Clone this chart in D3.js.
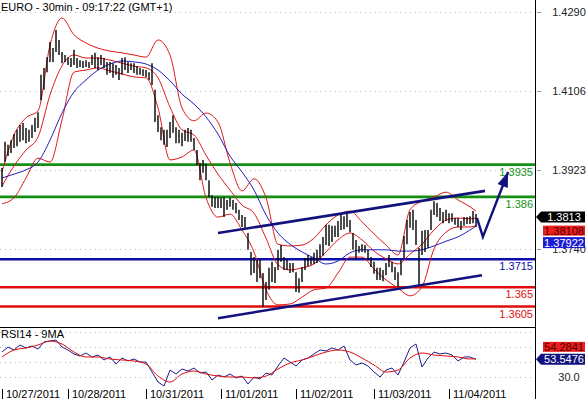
<!DOCTYPE html>
<html>
<head>
<meta charset="utf-8">
<script src="https://cdn.jsdelivr.net/npm/d3@7"></script>
<style>
body { margin: 0; background: #fff; }
svg { display: block; font-family: "Liberation Sans", Arial, sans-serif; font-size: 11px; }
</style>
</head>
<body>
<svg id="chart" width="588" height="399"></svg>
<script>
var title = "EURO - 30min - 09:17:22 (GMT+1)";
var rsiTitle = "RSI14 - 9MA";

// 30 min bars, high / low
var barHigh = [1.3927,1.3988,1.3981,1.3992,1.4006,1.4016,1.4027,1.4032,1.4020,1.4016,
  1.4027,1.4044,1.4057,1.4144,1.4160,1.4185,1.4220,1.4206,1.4248,1.4225,
  1.4197,1.4190,1.4185,1.4183,1.4202,1.4183,1.4178,1.4176,1.4178,1.4174,
  1.4190,1.4195,1.4185,1.4190,1.4183,1.4174,1.4174,1.4171,1.4167,1.4160,
  1.4183,1.4185,1.4174,1.4171,1.4171,1.4164,1.4160,1.4157,1.4155,1.4150,
  1.4171,1.4109,1.4050,1.4022,1.4016,1.4016,1.4034,1.4050,1.4022,1.4016,
  1.4009,1.4016,1.4020,1.4016,1.3997,1.3969,1.3939,1.3946,1.3937,1.3899,
  1.3864,1.3860,1.3860,1.3858,1.3860,1.3853,1.3858,1.3853,1.3846,1.3830,
  1.3818,1.3813,1.3776,1.3732,1.3720,1.3713,1.3713,1.3683,1.3662,1.3695,
  1.3709,1.3697,1.3737,1.3748,1.3720,1.3713,1.3706,1.3706,1.3685,1.3671,
  1.3697,1.3718,1.3725,1.3720,1.3730,1.3737,1.3750,1.3767,1.3795,1.3795,
  1.3793,1.3793,1.3804,1.3822,1.3815,1.3822,1.3806,1.3776,1.3760,1.3746,
  1.3750,1.3748,1.3737,1.3720,1.3709,1.3695,1.3695,1.3690,1.3706,1.3725,
  1.3709,1.3697,1.3685,1.3713,1.3769,1.3806,1.3825,1.3830,1.3806,1.3741,
  1.3781,1.3783,1.3783,1.3830,1.3850,1.3846,1.3834,1.3825,1.3830,1.3822,
  1.3822,1.3811,1.3811,1.3804,1.3813,1.3813,1.3815,1.3827,1.3820];
var barLow = [1.3883,1.3941,1.3955,1.3962,1.3974,1.3978,1.3988,1.3992,1.3985,1.3988,
  1.3997,1.4011,1.4020,1.4085,1.4109,1.4150,1.4174,1.4174,1.4197,1.4190,
  1.4171,1.4174,1.4167,1.4162,1.4167,1.4160,1.4162,1.4160,1.4162,1.4160,
  1.4167,1.4160,1.4155,1.4167,1.4160,1.4144,1.4148,1.4137,1.4144,1.4132,
  1.4144,1.4155,1.4148,1.4155,1.4148,1.4144,1.4144,1.4141,1.4139,1.4132,
  1.4120,1.4034,1.4011,1.3992,1.3981,1.3976,1.3997,1.4009,1.3985,1.3985,
  1.3978,1.3990,1.3988,1.3988,1.3969,1.3934,1.3899,1.3916,1.3899,1.3860,
  1.3837,1.3834,1.3834,1.3834,1.3813,1.3830,1.3837,1.3830,1.3822,1.3806,
  1.3790,1.3788,1.3737,1.3678,1.3683,1.3662,1.3671,1.3604,1.3620,1.3644,
  1.3662,1.3660,1.3690,1.3709,1.3690,1.3690,1.3683,1.3685,1.3639,1.3637,
  1.3662,1.3690,1.3699,1.3702,1.3704,1.3706,1.3713,1.3723,1.3748,1.3746,
  1.3755,1.3767,1.3767,1.3783,1.3785,1.3790,1.3778,1.3737,1.3713,1.3730,
  1.3732,1.3730,1.3713,1.3697,1.3681,1.3667,1.3667,1.3664,1.3678,1.3697,
  1.3685,1.3667,1.3651,1.3678,1.3718,1.3750,1.3788,1.3783,1.3748,1.3655,
  1.3725,1.3732,1.3741,1.3783,1.3818,1.3813,1.3804,1.3799,1.3804,1.3799,
  1.3802,1.3795,1.3790,1.3783,1.3793,1.3797,1.3797,1.3799,1.3790];

// bollinger bands and moving average, every 4th bar
var bandUpper = [1.3918,1.4004,1.4044,1.4060,1.4213,1.4276,1.4237,1.4218,1.4206,1.4199,
  1.4195,1.4190,1.4185,1.4225,1.4190,1.4067,1.4037,1.4055,1.4034,1.3939,
  1.3874,1.3902,1.3858,1.3750,1.3746,1.3748,1.3764,1.3795,1.3818,1.3827,
  1.3802,1.3774,1.3748,1.3725,1.3830,1.3850,1.3860,1.3871,1.3853,1.3837,1.3827];
var bandMid = [1.3885,1.3932,1.3969,1.3999,1.4097,1.4165,1.4190,1.4183,1.4183,1.4178,
  1.4171,1.4164,1.4160,1.4137,1.4069,1.4016,1.4004,1.3957,1.3913,1.3876,
  1.3841,1.3822,1.3764,1.3702,1.3690,1.3695,1.3704,1.3732,1.3760,1.3776,
  1.3760,1.3734,1.3716,1.3704,1.3727,1.3750,1.3783,1.3806,1.3811,1.3809,1.3811];
var bandLower = [1.3844,1.3858,1.3904,1.3950,1.3941,1.4039,1.4150,1.4155,1.4160,1.4153,
  1.4146,1.4139,1.4137,1.4067,1.3946,1.3953,1.3969,1.3858,1.3813,1.3820,
  1.3783,1.3732,1.3644,1.3609,1.3611,1.3627,1.3644,1.3648,1.3683,1.3720,
  1.3720,1.3692,1.3667,1.3648,1.3630,1.3651,1.3739,1.3778,1.3790,1.3790,1.3793];
var slowMA = [1.3904,1.3913,1.3923,1.3941,1.3992,1.4055,1.4104,1.4132,1.4155,1.4169,
  1.4176,1.4174,1.4169,1.4155,1.4130,1.4099,1.4076,1.4046,1.4006,1.3955,
  1.3918,1.3876,1.3818,1.3776,1.3750,1.3732,1.3718,1.3704,1.3711,1.3730,
  1.3737,1.3737,1.3737,1.3734,1.3734,1.3737,1.3746,1.3757,1.3767,1.3783,1.3792];

// RSI every 2nd bar, its 9MA every 4th bar
var rsi = [63.3,70,66,72.7,68.7,71.3,67.3,76.7,78,79.3,
  70,66,60.7,58,62,56.7,59.3,52.7,56.7,47.3,
  55.3,51.3,54,50,50,36.7,23.3,18,39.3,34,
  40.7,38,42,35.3,36.7,26,32.7,30,34,28.7,
  31.3,20.7,30,27.3,35.3,32.7,44.7,55.3,50,44.7,
  52.7,55.3,60.7,66,64.7,68.7,66,71.3,52.7,46,
  48.7,44.7,36.7,30,39.3,42,32.7,50,68.7,74,
  43.3,55.3,63.3,60.7,62,59.3,51.3,56.7,56.7,53.5];
var rsiMA = [56.7,66,68.7,72.7,78,74,63.3,56.7,56.7,54,
  52.7,51.3,47.3,31.3,23.3,34,38,34,31.3,30,
  30,28.7,31.3,40.7,48.7,52.7,58,63.3,66,63.3,
  55.3,46,36.7,39.3,55.3,62,59.3,58,56.7,54,54.3];

var priceTicks = [1.4290, 1.4106, 1.3923, 1.3740];
var rsiGrid = [90, 70, 50, 30];
var rsiTicks = [30];
var dayStarts = [0, 22, 48, 73, 98, 124, 149];
var dayLabels = ["10/27/2011","10/28/2011","10/31/2011","11/01/2011","11/02/2011","11/03/2011","11/04/2011"];

var levels = [1.3935, 1.386, 1.3715, 1.365, 1.3605];
var levelText = ["1.3935", "1.386", "1.3715", "1.365", "1.3605"];
var levelColor = ["#159015", "#159015", "#0c0ca8", "#e00c0c", "#e00c0c"];

var channelTop = [[72, 1.3776], [161, 1.3874]];
var channelBottom = [[72, 1.3578], [160, 1.3678]];
var arrowPts = [[158.3, 1.3811], [160.3, 1.3767], [168.7, 1.3918]];

var lastClose = 1.3813, lastMid = 1.38108, lastMA = 1.37922;
var lastRsi = 53.5476, lastRsiMA = 54.2841;

var svg = d3.select("#chart");
var axisX = 535;

var x = d3.scaleLinear().domain([0, 158]).range([2, 476]);
var y = d3.scaleLinear().domain([1.3740, 1.4290]).range([248.5, 12]);
var yr = d3.scaleLinear().domain([30, 70]).range([377, 347]);

var bandIdx = d3.range(0, 157, 4).concat([158]);
var rsiIdx = d3.range(0, 159, 2);

/* grid */
svg.selectAll(".pgrid").data(priceTicks).enter().append("line")
    .attr("x1", 0).attr("x2", axisX - 2)
    .attr("y1", function (d) { return Math.round(y(d)) + 0.5; })
    .attr("y2", function (d) { return Math.round(y(d)) + 0.5; })
    .style("stroke", "#b8b8b8").style("stroke-dasharray", "1,4");
svg.selectAll(".rgrid").data(rsiGrid).enter().append("line")
    .attr("x1", 0).attr("x2", axisX - 2)
    .attr("y1", function (d) { return Math.round(yr(d)) + 0.5; })
    .attr("y2", function (d) { return Math.round(yr(d)) + 0.5; })
    .style("stroke", "#b8b8b8").style("stroke-dasharray", "1,4");

/* price tick labels */
svg.selectAll(".ptick").data(priceTicks).enter().append("text")
    .attr("x", 569).attr("y", function (d) { return y(d) + 4; })
    .attr("text-anchor", "middle").style("fill", "#222")
    .text(function (d) { return d.toFixed(4); });
svg.selectAll(".pmark").data(priceTicks).enter().append("line")
    .attr("x1", axisX + 2).attr("x2", axisX + 6)
    .attr("y1", function (d) { return Math.round(y(d)) + 0.5; })
    .attr("y2", function (d) { return Math.round(y(d)) + 0.5; })
    .style("stroke", "#999");
svg.selectAll(".rtick").data(rsiTicks).enter().append("text")
    .attr("x", 569).attr("y", function (d) { return yr(d) + 4; })
    .attr("text-anchor", "middle").style("fill", "#222")
    .text(function (d) { return d.toFixed(1); });

/* level lines */
svg.selectAll(".level").data(levels).enter().append("line")
    .attr("x1", 0).attr("x2", axisX)
    .attr("y1", function (d) { return y(d); })
    .attr("y2", function (d) { return y(d); })
    .style("stroke", function (d, i) { return levelColor[i]; })
    .style("stroke-width", 2.6);
svg.selectAll(".levelLabel").data(levels).enter().append("text")
    .attr("x", axisX - 2).attr("y", function (d) { return y(d) + 11; })
    .attr("text-anchor", "end")
    .style("fill", function (d, i) { return levelColor[i]; })
    .text(function (d, i) { return levelText[i]; });

/* bands and average */
function bandLine(vals) {
    return d3.line()
        .x(function (d, i) { return x(bandIdx[i]); })
        .y(function (d) { return y(d); })
        .curve(d3.curveMonotoneX)(vals);
}
[bandUpper, bandMid, bandLower].forEach(function (b) {
    svg.append("path").attr("d", bandLine(b))
        .style("fill", "none").style("stroke", "#e01818").style("stroke-width", 1);
});
svg.append("path").attr("d", bandLine(slowMA))
    .style("fill", "none").style("stroke", "#2222c0").style("stroke-width", 1);

/* price bars */
svg.selectAll(".bar").data(barHigh).enter().append("line")
    .attr("x1", function (d, i) { return x(i); })
    .attr("x2", function (d, i) { return x(i); })
    .attr("y1", function (d) { return y(d); })
    .attr("y2", function (d, i) { return y(barLow[i]); })
    .style("stroke", "#000").style("stroke-width", 1.4);

/* channel + projection arrow */
var ptLine = d3.line()
    .x(function (d) { return x(d[0]); })
    .y(function (d) { return y(d[1]); });
[channelTop, channelBottom].forEach(function (c) {
    svg.append("path").attr("d", ptLine(c))
        .style("stroke", "#12127e").style("stroke-width", 2.6).style("fill", "none");
});
svg.append("path").attr("d", ptLine(arrowPts))
    .style("stroke", "#12127e").style("stroke-width", 2.4).style("fill", "none");
var tip = arrowPts[2], prev = arrowPts[1];
var tx = x(tip[0]), ty = y(tip[1]);
var dx = tx - x(prev[0]), dy = ty - y(prev[1]);
var len = Math.sqrt(dx * dx + dy * dy);
dx /= len; dy /= len;
var hl = 15, hw = 5.5;
svg.append("polygon")
    .attr("points", [
        [tx, ty],
        [tx - hl * dx - hw * dy, ty - hl * dy + hw * dx],
        [tx - hl * dx + hw * dy, ty - hl * dy - hw * dx]
    ].join(" "))
    .style("fill", "#12127e");

/* RSI panel */
var rsiLine = d3.line()
    .x(function (d, i) { return x(rsiIdx[i]); })
    .y(function (d) { return yr(d); });
var rsiMaLine = d3.line()
    .x(function (d, i) { return x(bandIdx[i]); })
    .y(function (d) { return yr(d); })
    .curve(d3.curveMonotoneX);
svg.append("path").attr("d", rsiLine(rsi))
    .style("fill", "none").style("stroke", "#1c1c8c").style("stroke-width", 1);
svg.append("path").attr("d", rsiMaLine(rsiMA))
    .style("fill", "none").style("stroke", "#e01010").style("stroke-width", 1);

/* frame */
svg.append("line").attr("x1", 0).attr("x2", axisX).attr("y1", 327.5).attr("y2", 327.5)
    .style("stroke", "#000");
svg.append("line").attr("x1", axisX + 0.5).attr("x2", axisX + 0.5).attr("y1", 0).attr("y2", 399)
    .style("stroke", "#000");

svg.append("text").attr("x", 1).attr("y", 11).style("fill", "#000").text(title);
svg.append("text").attr("x", 1).attr("y", 338).style("fill", "#000").text(rsiTitle);

/* date axis */
svg.selectAll(".dtick").data(dayStarts).enter().append("line")
    .attr("x1", function (d) { return Math.round(x(d)) + 0.5; })
    .attr("x2", function (d) { return Math.round(x(d)) + 0.5; })
    .attr("y1", 389).attr("y2", 399)
    .style("stroke", "#000");
svg.selectAll(".dlabel").data(dayStarts).enter().append("text")
    .attr("x", function (d) { return x(d) + 4; })
    .attr("y", 397.5)
    .style("fill", "#000")
    .text(function (d, i) { return dayLabels[i]; });

/* value tags */
function arrowTag(yc, fill) {
    svg.append("polygon")
        .attr("points", [[axisX + 1, yc], [axisX + 6, yc - 5.5], [585, yc - 5.5], [585, yc + 5.5], [axisX + 6, yc + 5.5]].join(" "))
        .style("fill", fill);
}
function boxTag(y0, h, fill) {
    svg.append("rect").attr("x", 543).attr("y", y0).attr("width", 42).attr("height", h)
        .style("fill", fill);
}
function tagText(yc, txt, col) {
    svg.append("text").attr("x", 564).attr("y", yc + 4)
        .attr("text-anchor", "middle").style("fill", col).text(txt);
}
var yc = y(lastClose);
arrowTag(yc, "#000");
tagText(yc, lastClose.toFixed(4), "#fff");
boxTag(yc + 8.5, 10, "#ee1c1c");
tagText(yc + 13.5, lastMid.toFixed(5), "#4a0000");
boxTag(yc + 20, 11, "#1c1cd4");
tagText(yc + 25.5, lastMA.toFixed(5), "#fff");

var rc = yr(lastRsi);
boxTag(rc - 17.5, 10, "#ee1c1c");
tagText(rc - 12.5, lastRsiMA.toFixed(4), "#4a0000");
arrowTag(rc, "#12127e");
tagText(rc, lastRsi.toFixed(4), "#fff");
</script>
</body>
</html>
